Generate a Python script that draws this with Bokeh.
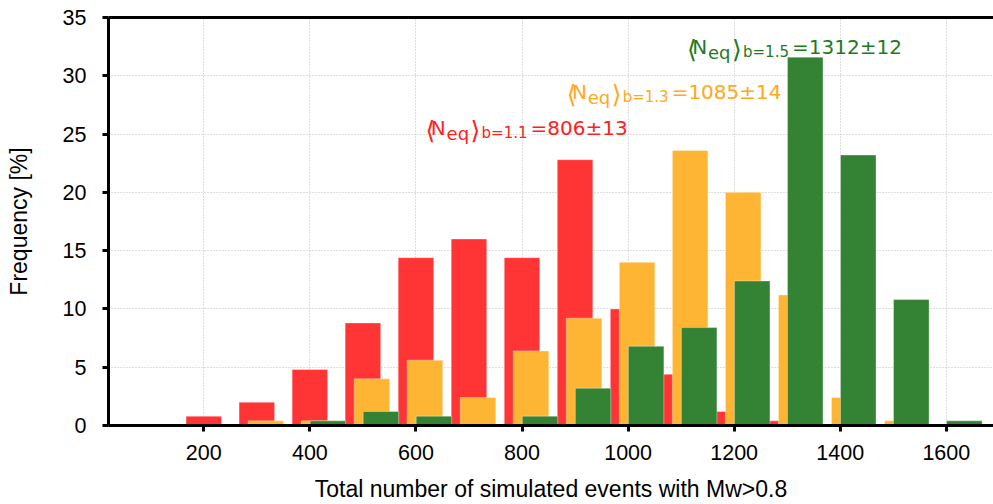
from bokeh.plotting import figure
from bokeh.models import FixedTicker, LinearAxis, Label, Range1d
from bokeh.embed import file_html
from bokeh.resources import INLINE

# ---- data ----
bins = [200, 300, 400, 500, 600, 700, 800, 900, 1000, 1100, 1200, 1300, 1400, 1500, 1600]
freq_b11 = [0.8, 2.0, 4.8, 8.8, 14.4, 16.0, 14.4, 22.8, 10.0, 4.4, 1.2, 0.4, 0, 0, 0]
freq_b13 = [0, 0.4, 0.4, 4.0, 5.6, 2.4, 6.4, 9.2, 14.0, 23.6, 20.0, 11.2, 2.4, 0.4, 0]
freq_b15 = [0, 0, 0.4, 1.2, 0.8, 0, 0.8, 3.2, 6.8, 8.4, 12.4, 31.6, 23.2, 10.8, 0.4]
x_ticks = [200, 400, 600, 800, 1000, 1200, 1400, 1600]
y_ticks = [0, 5, 10, 15, 20, 25, 30, 35]
ann_sub = ["b=1.1", "b=1.3", "b=1.5"]
ann_val = ["=806±13", "=1085±14", "=1312±12"]
ann_x = [620, 886, 1113]
ann_y = [25.53, 28.63, 32.49]

# ---- style ----
bar_colors = ["#FF3434", "#FFB534", "#348234"]
text_colors = ["#FF2020", "#FFA820", "#1E7A1E"]
offsets = [0, 17, 34]
bar_w = 67
tick_font = "Liberation Sans"
ann_font = "DejaVu Sans"

p = figure(width=993, height=504,
           x_range=Range1d(20.3, 1689), y_range=Range1d(0, 35),
           output_backend="svg", toolbar_location=None,
           min_border_left=108, min_border_right=0,
           min_border_top=17, min_border_bottom=79)
p.outline_line_color = None
p.background_fill_color = "white"
p.border_fill_color = "white"

for vals, col, off in zip([freq_b11, freq_b13, freq_b15], bar_colors, offsets):
    p.vbar(x=[b + off for b in bins], top=vals, bottom=0, width=bar_w,
           fill_color=col, line_color="white", line_alpha=0.35, line_width=1)

# axes
for ax, ticks in ((p.xaxis[0], x_ticks), (p.yaxis[0], y_ticks)):
    ax.ticker = FixedTicker(ticks=ticks)
    ax.axis_line_width = 3
    ax.axis_line_color = "black"
    ax.major_tick_line_width = 3
    ax.major_tick_line_color = "black"
    ax.major_tick_in = 0
    ax.major_tick_out = 6
    ax.minor_tick_line_color = None
    ax.major_label_text_font = tick_font
    ax.major_label_text_font_size = "21.5px"
    ax.major_label_text_color = "black"
    ax.axis_label_text_font = tick_font
    ax.axis_label_text_font_size = "23px"
    ax.axis_label_text_font_style = "normal"
    ax.axis_label_text_color = "black"

p.xaxis.axis_label = "Total number of simulated events with Mw>0.8"
p.xaxis.major_label_standoff = 13
p.xaxis.axis_label_standoff = 13
p.yaxis.axis_label = "Frequency [%]"
p.yaxis.major_label_standoff = 16
p.yaxis.axis_label_standoff = 28

top_axis = LinearAxis(ticker=FixedTicker(ticks=[]), axis_line_width=3,
                      axis_line_color="black",
                      major_tick_line_color=None, minor_tick_line_color=None,
                      major_label_text_font_size="0px")
p.add_layout(top_axis, "above")

# grid
p.xgrid.ticker = FixedTicker(ticks=x_ticks)
p.ygrid.ticker = FixedTicker(ticks=y_ticks)
for g in (p.xgrid[0], p.ygrid[0]):
    g.grid_line_color = "#bdbdbd"
    g.grid_line_dash = "1 2"
    g.grid_line_width = 1

# annotations  <N_eq>_{b=..}=value
pieces = [("\u27e8", -1, -3, "25px"), ("N", 4.3, 0, "20px"), ("eq", 20, -5.6, "18px"),
          ("\u27e9", 44, -3, "25px")]
for sub, val, x, y, col in zip(ann_sub, ann_val, ann_x, ann_y, text_colors):
    items = pieces + [(sub, 55, -5.6, "15px"), (val, 104, 0, "20px")]
    for txt, dx, dy, fs in items:
        p.add_layout(Label(x=x, y=y, x_units="data", y_units="data",
                           x_offset=dx, y_offset=dy, text=txt,
                           text_font=ann_font, text_font_size=fs,
                           text_color=col, text_align="left",
                           text_baseline="alphabetic"))

open("out.html", "w").write(file_html(p, INLINE))
